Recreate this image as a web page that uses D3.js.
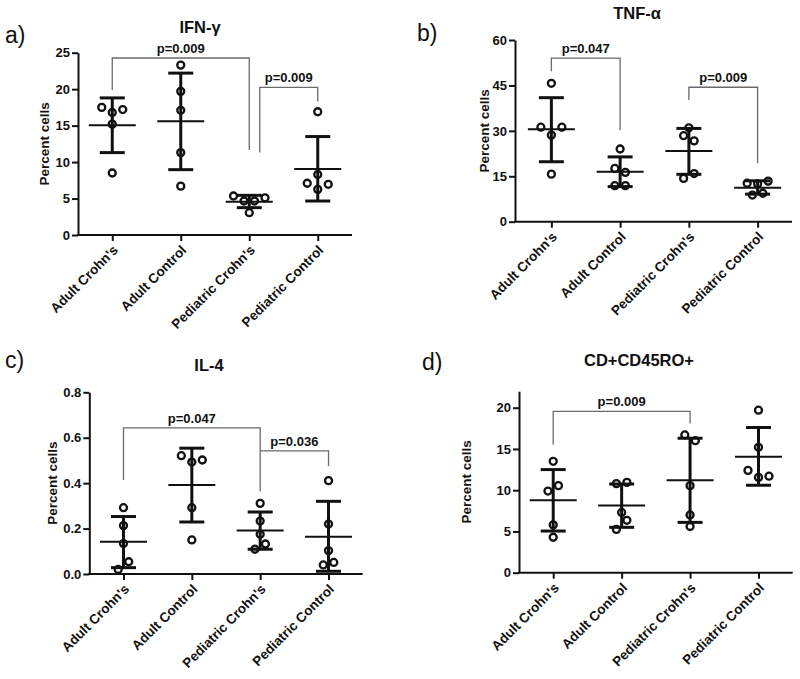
<!DOCTYPE html>
<html><head><meta charset="utf-8">
<script src="https://cdn.jsdelivr.net/npm/d3@7"></script>
<style>body{margin:0;background:#fff} svg{display:block} text{font-family:"Liberation Sans",Arial,sans-serif}</style>
</head><body>
<svg id="c" width="800" height="679"></svg>
<script>
const categories = ["Adult Crohn's", "Adult Control", "Pediatric Crohn's", "Pediatric Control"];

// a) IFN-γ
const ifnPoints = [[17.5,16.8,17.2,15.2,8.5],[23.3,19.7,17.1,11.3,6.7],[5.35,4.66,4.66,5.1,3.06],[16.9,8.3,7.1,6.95,6.26]];
const ifnSlots  = [[-1,0,1,0,0],[0,0,0,0,0],[-1.5,-0.5,0.5,1.5,0],[0,0,-1,1,0]];
const ifnMean = [15.04,15.6,4.57,9.05];
const ifnLow  = [11.3,8.96,3.75,4.66];
const ifnHigh = [18.8,22.2,5.44,13.5];
const ifnTicks = [0,5,10,15,20,25];
const ifnBrackets = [
  {from:0, to:2, top:24.27, fromEnd:19.9, toEnd:11.65, label:"p=0.009"},
  {from:2, fromSlot:1, to:3, top:20.25, fromEnd:11.3, toEnd:18.3, label:"p=0.009"}
];

// b) TNF-α
const tnfPoints = [[45.7,31.2,31.2,28.6,15.7],[24.0,17.6,16.3,11.9,11.9],[31.0,28.4,26.7,14.3,15.9],[13.4,12.7,12.5,9.4,8.8]];
const tnfSlots  = [[0,-1,1,0,0],[0,-0.5,0.5,-0.5,0.5],[0,-0.5,0.5,-0.5,0.5],[1,-1,0,0.5,-0.5]];
const tnfMean = [30.5,16.5,23.35,11.2];
const tnfLow  = [19.8,11.6,15.65,9.1];
const tnfHigh = [40.95,21.4,30.8,13.5];
const tnfTicks = [0,15,30,45,60];
const tnfBrackets = [
  {from:0, to:1, top:54, fromEnd:49.7, toEnd:30.3, label:"p=0.047"},
  {from:2, to:3, top:44.4, fromEnd:40.2, toEnd:19.3, label:"p=0.009"}
];

// c) IL-4
const il4Points = [[0.292,0.213,0.134,0.054,0.02],[0.521,0.493,0.502,0.292,0.15],[0.311,0.233,0.175,0.132,0.109],[0.411,0.22,0.103,0.051,0.04]];
const il4Slots  = [[0,0,0,0.5,-0.5],[-1,0,1,0,0],[0,0,0,0.5,-0.5],[0,0,0,0.5,-0.5]];
const il4Mean = [0.142,0.392,0.191,0.164];
const il4Low  = [0.028,0.229,0.109,0.012];
const il4High = [0.253,0.554,0.273,0.32];
const il4Ticks = [0,0.2,0.4,0.6,0.8];
const il4Brackets = [
  {from:0, to:2, top:0.643, fromEnd:0.414, toEnd:0.363, label:"p=0.047"},
  {from:2, to:3, top:0.542, fromEnd:0.542, toEnd:0.476, label:"p=0.036"}
];

// d) CD+CD45RO+
const cdPoints = [[13.5,10.55,9.9,5.8,4.3],[10.8,10.95,7.3,6.35,5.25],[16.7,16.0,10.55,7.0,5.6],[19.7,15.2,12.4,11.55,11.7]];
const cdSlots  = [[0,0.5,-0.5,0,0],[-0.5,0.5,0,0.5,-0.5],[-0.5,0.5,0,0,0],[0,0,-1,0,1]];
const cdMean = [8.77,8.16,11.2,14.06];
const cdLow  = [5.05,5.5,6.1,10.6];
const cdHigh = [12.5,10.75,16.3,17.6];
const cdTicks = [0,5,10,15,20];
const cdBrackets = [
  {from:0, to:2, top:19.55, fromEnd:15.55, toEnd:18.1, label:"p=0.009"}
];

const panels = [
  {tag:"a)", title:"IFN-γ", points:ifnPoints, slots:ifnSlots, mean:ifnMean, low:ifnLow, high:ifnHigh,
   ticks:ifnTicks, domain:[0,25], brackets:ifnBrackets, fmt:d3.format("d"),
   ax:78, x0:78, x1:352, y0:235, y1:52.7, tagPos:[5,43], titlePos:[200,33], ylabX:49},
  {tag:"b)", title:"TNF-α", points:tnfPoints, slots:tnfSlots, mean:tnfMean, low:tnfLow, high:tnfHigh,
   ticks:tnfTicks, domain:[0,60], brackets:tnfBrackets, fmt:d3.format("d"),
   ax:515, x0:517, x1:792, y0:221.7, y1:40, tagPos:[417,41], titlePos:[637,18.5], ylabX:489},
  {tag:"c)", title:"IL-4", points:il4Points, slots:il4Slots, mean:il4Mean, low:il4Low, high:il4High,
   ticks:il4Ticks, domain:[0,0.8], brackets:il4Brackets, fmt:d3.format(".1f"),
   ax:89.3, x0:89.3, x1:362.7, y0:574, y1:392.3, tagPos:[5,368], titlePos:[209,371], ylabX:57},
  {tag:"d)", title:"CD+CD45RO+", points:cdPoints, slots:cdSlots, mean:cdMean, low:cdLow, high:cdHigh,
   ticks:cdTicks, domain:[0,22], brackets:cdBrackets, fmt:d3.format("d"),
   ax:519, x0:519, x1:792.7, y0:572.7, y1:391.2, tagPos:[422,370], titlePos:[639,366], ylabX:470.5}
];

const SLOT = 10.5;
const svg = d3.select("#c");

panels.forEach(p => {
  const g = svg.append("g");
  const x = d3.scalePoint().domain(categories).range([p.x0, p.x1]).padding(0.5);
  const y = d3.scaleLinear().domain(p.domain).range([p.y0, p.y1]);

  // panel tag & title
  g.append("text").attr("x", p.tagPos[0]).attr("y", p.tagPos[1])
    .attr("font-size", 23).attr("fill", "#111").text(p.tag);
  g.append("text").attr("x", p.titlePos[0]).attr("y", p.titlePos[1])
    .attr("text-anchor","middle").attr("font-size", 16.5).attr("font-weight","bold").attr("fill","#111").text(p.title);

  // y axis
  const ya = g.append("g").attr("transform", `translate(${p.ax},0)`)
    .call(d3.axisLeft(y).tickValues(p.ticks).tickFormat(p.fmt).tickSize(6).tickPadding(2).tickSizeOuter(0));
  ya.attr("font-family", null).attr("font-size", null);
  ya.select(".domain").attr("stroke", "#111").attr("stroke-width", 2);
  ya.selectAll(".tick line").attr("stroke", "#111").attr("stroke-width", 2);
  ya.selectAll(".tick text").attr("font-size", 13).attr("font-weight", "bold").attr("fill", "#111");

  // y label
  g.append("text").attr("transform", `translate(${p.ylabX},${(p.y0 + p.y1) / 2}) rotate(-90)`)
    .attr("text-anchor","middle").attr("font-size", 13.5).attr("font-weight","bold").attr("fill","#111")
    .text("Percent cells");

  // x axis
  const xa = g.append("g").attr("transform", `translate(0,${p.y0})`)
    .call(d3.axisBottom(x).tickSize(6).tickSizeOuter(0));
  xa.attr("font-family", null).attr("font-size", null);
  xa.select(".domain").remove();
  xa.selectAll(".tick line").attr("stroke", "#111").attr("stroke-width", 2);
  xa.selectAll(".tick text").remove();
  xa.selectAll(".tick").append("text")
    .attr("transform", "translate(6,16) rotate(-45)")
    .attr("text-anchor", "end").attr("font-size", 13.5).attr("font-weight", "bold").attr("fill", "#111")
    .text(d => d);
  g.append("line").attr("x1", p.ax - 1).attr("x2", p.x1).attr("y1", p.y0).attr("y2", p.y0)
    .attr("stroke", "#111").attr("stroke-width", 2);

  // points
  categories.forEach((c, i) => {
    const cx = x(c);
    g.selectAll(null).data(p.points[i].map((v, j) => ({v, s: p.slots[i][j]})))
      .enter().append("circle")
      .attr("cx", d => cx + d.s * SLOT).attr("cy", d => y(d.v)).attr("r", 3.5)
      .attr("fill", "none").attr("stroke", "#111").attr("stroke-width", 2.3);
    // error bars
    g.append("line").attr("x1", cx).attr("x2", cx).attr("y1", y(p.low[i])).attr("y2", y(p.high[i]))
      .attr("stroke", "#111").attr("stroke-width", 3);
    [p.low[i], p.high[i]].forEach(v => {
      g.append("line").attr("x1", cx - 12.5).attr("x2", cx + 12.5).attr("y1", y(v)).attr("y2", y(v))
        .attr("stroke", "#111").attr("stroke-width", 3);
    });
    g.append("line").attr("x1", cx - 23.5).attr("x2", cx + 23.5).attr("y1", y(p.mean[i])).attr("y2", y(p.mean[i]))
      .attr("stroke", "#111").attr("stroke-width", 2);
  });

  // significance brackets
  p.brackets.forEach(b => {
    const xa1 = x(categories[b.from]) + (b.fromSlot || 0) * SLOT;
    const xa2 = x(categories[b.to]) + (b.toSlot || 0) * SLOT;
    g.append("path")
      .attr("d", `M${xa1},${y(b.fromEnd)}V${y(b.top)}H${xa2}V${y(b.toEnd)}`)
      .attr("fill", "none").attr("stroke", "#6a6a6a").attr("stroke-width", 1.3);
    g.append("text").attr("x", (xa1 + xa2) / 2).attr("y", y(b.top) - 5)
      .attr("text-anchor", "middle").attr("font-size", 13).attr("font-weight", "bold").attr("fill", "#111")
      .text(b.label);
  });
});
</script>
</body></html>
